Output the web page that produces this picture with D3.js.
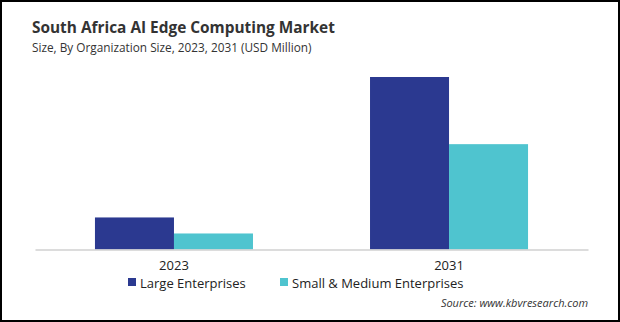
<!DOCTYPE html>
<html>
<head>
<meta charset="utf-8">
<script src="https://cdn.jsdelivr.net/npm/d3@7"></script>
<style>
  body { margin: 0; background: #fff; }
  svg { display: block; }
</style>
</head>
<body>
<div id="chart"></div>
<script>
// chart data
const years = ["2023", "2031"];
const series = ["Large Enterprises", "Small & Medium Enterprises"];
const largeValues = [9.4, 50.6];
const smallValues = [4.7, 30.9];
const COLORS = ["#2b3990", "#4fc4cf"];

const W = 620, H = 322;
const FONT = "'Open Sans', 'Noto Sans', sans-serif";

const svg = d3.select("#chart").append("svg")
    .attr("width", W)
    .attr("height", H);

svg.append("rect")
    .attr("x", 1).attr("y", 1)
    .attr("width", W - 2).attr("height", H - 2)
    .attr("fill", "#fff")
    .attr("stroke", "#000")
    .attr("stroke-width", 2);

// Title and subtitle
svg.append("text")
    .attr("x", 32).attr("y", 33)
    .attr("font-family", FONT)
    .attr("font-weight", "bold")
    .attr("font-size", "15.4px")
    .attr("fill", "#333")
    .text("South Africa AI Edge Computing Market");

svg.append("text")
    .attr("x", 32).attr("y", 52)
    .attr("font-family", FONT)
    .attr("font-size", "11.8px")
    .attr("fill", "#333")
    .text("Size, By Organization Size, 2023, 2031 (USD Million)");

// Scales
const x = d3.scaleBand()
    .domain(years)
    .range([35, 588])
    .paddingInner(0.4255)
    .paddingOuter(0.218);

const x1 = d3.scaleBand()
    .domain(series)
    .range([0, x.bandwidth()]);

const y = d3.scaleLinear()
    .domain([0, d3.max(largeValues)])
    .range([249.5, 77]);

const data = years.map((yr, i) => ({
    year: yr,
    values: [largeValues[i], smallValues[i]]
}));

const groups = svg.append("g").selectAll("g")
    .data(data)
    .join("g")
    .attr("transform", d => "translate(" + x(d.year) + ",0)");

groups.selectAll("rect")
    .data(d => d.values.map((v, j) => ({ key: series[j], value: v, idx: j })))
    .join("rect")
    .attr("x", d => x1(d.key))
    .attr("width", x1.bandwidth())
    .attr("y", d => y(d.value))
    .attr("height", d => y(0) - y(d.value))
    .attr("fill", d => COLORS[d.idx]);

// X axis
const xAxis = svg.append("g")
    .attr("transform", "translate(0," + y(0) + ")")
    .call(d3.axisBottom(x).tickSize(0).tickSizeOuter(0).tickPadding(11));

xAxis.select(".domain").attr("stroke", "#d0d0d0").attr("stroke-width", 1.5);
xAxis.selectAll("text")
    .attr("font-family", FONT)
    .attr("font-size", "13px")
    .attr("fill", "#222");

// Legend
const legendX = [128, 280];
const legend = svg.append("g").selectAll("g")
    .data(series)
    .join("g")
    .attr("transform", (d, i) => "translate(" + legendX[i] + ",283)");

legend.append("rect")
    .attr("x", 0).attr("y", -5)
    .attr("width", 8).attr("height", 8)
    .attr("fill", (d, i) => COLORS[i]);

legend.append("text")
    .attr("x", 12).attr("y", 0)
    .attr("dy", "0.35em")
    .attr("font-family", FONT)
    .attr("font-size", "13px")
    .attr("fill", "#222")
    .text(d => d);

// Source
svg.append("text")
    .attr("x", 588).attr("y", 307)
    .attr("text-anchor", "end")
    .attr("font-family", FONT)
    .attr("font-style", "italic")
    .attr("font-size", "11px")
    .attr("fill", "#333")
    .text("Source: www.kbvresearch.com");
</script>
</body>
</html>
